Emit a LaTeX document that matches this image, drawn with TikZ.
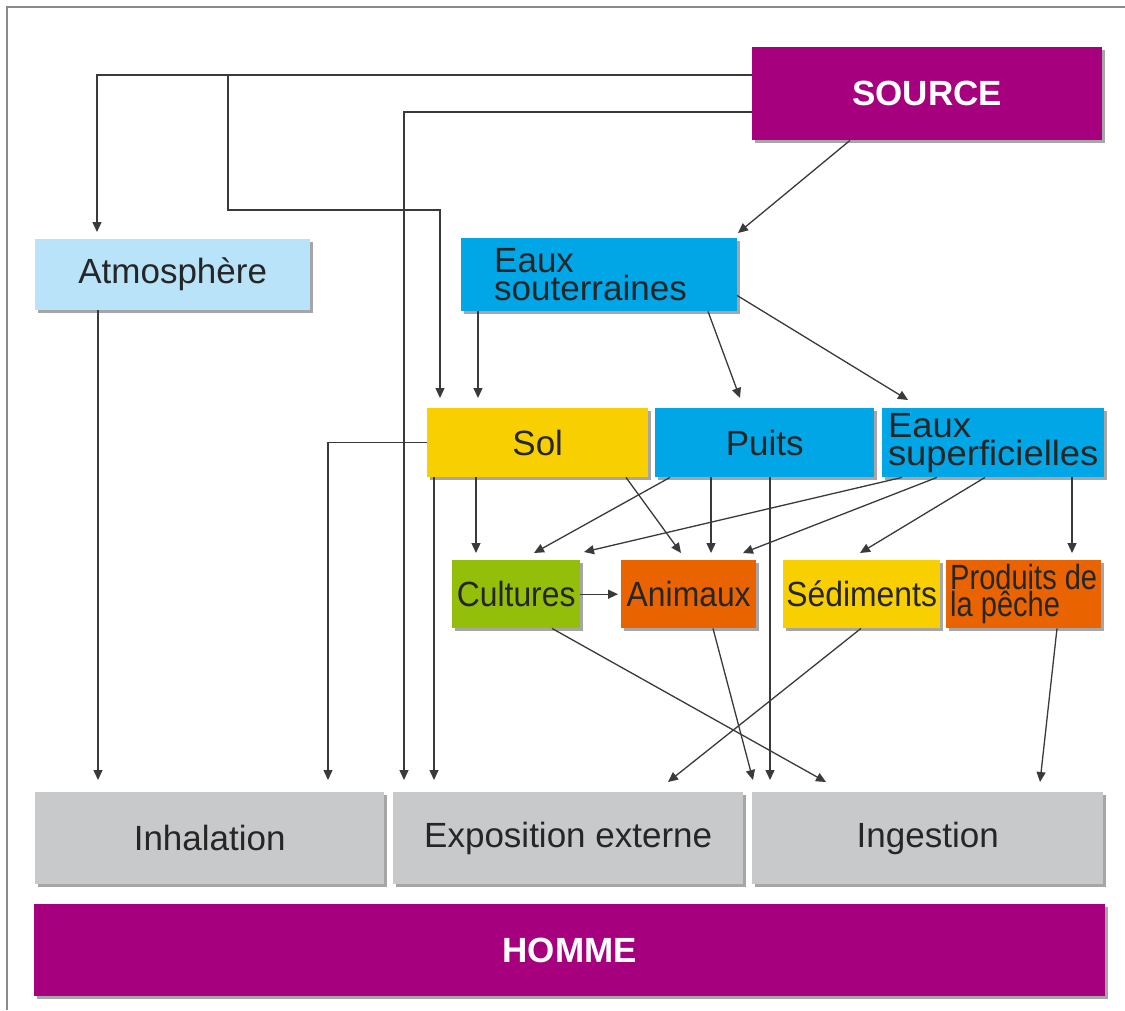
\documentclass[tikz,border=0pt]{standalone}
\usepackage{fontspec}
\setmainfont{Liberation Sans}
\newfontfamily\condA{Liberation Sans}[FakeStretch=0.91]
\newfontfamily\condB{Liberation Sans}[FakeStretch=0.83]
\newfontfamily\wideA{Liberation Sans}[FakeStretch=1.04]
\usetikzlibrary{arrows.meta,shadows,calc}
\definecolor{magen}{HTML}{A6007E}
\definecolor{lblue}{HTML}{B9E3F9}
\definecolor{dblue}{HTML}{00A6E6}
\definecolor{yell}{HTML}{F8CF00}
\definecolor{grn}{HTML}{93BE0A}
\definecolor{oran}{HTML}{E96300}
\definecolor{grayb}{HTML}{C8C9CB}
\definecolor{txt}{HTML}{262626}
\definecolor{lin}{HTML}{3A3A3A}
\definecolor{framec}{HTML}{8A8A8A}
\begin{document}
\begin{tikzpicture}[x=1pt,y=-1pt,
  box/.style={rectangle, inner sep=0pt, anchor=north west, text=txt,
    font=\fontsize{35}{28}\selectfont,
    drop shadow={shadow xshift=2.5pt, shadow yshift=-2.5pt, fill=black, opacity=0.35}},
  boldbox/.style={box, text=white, font=\fontsize{35}{30}\selectfont\bfseries},
  arr/.style={draw=lin, line width=1.3pt, -{Triangle[length=10pt,width=9pt]}}]
\useasboundingbox (0,0) rectangle (1125,1010);
\fill[white] (0,0) rectangle (1125,1010);
\draw[framec, line width=2pt] (7,1010) -- (7,7) -- (1125,7);

% nodes
\node[boldbox, fill=magen, minimum width=350pt, minimum height=93pt] (source) at (752,47) {SOURCE};
\node[box, fill=lblue, minimum width=275pt, minimum height=71pt] (atmo) at (35,239) {Atmosphère};
\node[box, fill=dblue, minimum height=73pt, inner xsep=33pt, text width=210pt, align=left] (esout) at (461,238) {Eaux\\souterraines};
\node[box, fill=yell, minimum width=221pt, minimum height=69pt] (sol) at (427,408) {Sol};
\node[box, fill=dblue, minimum width=219pt, minimum height=69pt] (puits) at (655,408) {Puits};
\node[box, fill=dblue, minimum width=222pt, minimum height=69pt, align=left, font=\fontsize{35}{28}\wideA] (esup) at (882,408) {Eaux\\superficielles};
\node[box, fill=grn, minimum width=128pt, minimum height=68pt, font=\fontsize{35}{28}\condA] (cult) at (452,560) {Cultures};
\node[box, fill=oran, minimum width=135pt, minimum height=68pt, font=\fontsize{35}{28}\condA] (anim) at (621,560) {Animaux};
\node[box, fill=yell, minimum width=157pt, minimum height=68pt, font=\fontsize{35}{28}\condA] (sed) at (783,560) {Sédiments};
\node[box, fill=oran, minimum width=155pt, minimum height=68pt, align=left, font=\fontsize{35}{27}\condB] (prod) at (946,560) {Produits de\\la pêche};
\node[box, fill=grayb, minimum width=349pt, minimum height=92pt] (inh) at (35,792) {Inhalation};
\node[box, fill=grayb, minimum width=350pt, minimum height=92pt] (expo) at (393,792) {Exposition externe};
\node[box, fill=grayb, minimum width=351pt, minimum height=92pt] (ing) at (752,792) {Ingestion};
\node[boldbox, fill=magen, minimum width=1071pt, minimum height=92pt] (homme) at (34,904) {HOMME};

% connectors
\coordinate (j1) at (228,75);
\draw[arr] ($(source.north west)+(0,28)$) -| ($(atmo.north west)+(62,-7)$);
\draw[arr] (j1) -- ++(0,135) -| ($(sol.north west)+(13,-10)$);
\draw[arr] ($(source.north west)+(0,65)$) -| ($(expo.north west)+(11,-12)$);
\draw[arr] ($(source.south west)+(98,0)$) -- ($(esout.north west)+(277,-5)$);
\draw[arr] ($(esout.south west)+(17,0)$) -- ($(sol.north west)+(51,-10)$);
\draw[arr] ($(esout.south west)+(247,0)$) -- ($(puits.north west)+(85,-10)$);
\draw[arr] ($(esout.south west)+(276,-16)$) -- ($(esup.north west)+(26,-8)$);
\draw[arr] ($(atmo.south west)+(63,0)$) -- ($(inh.north west)+(63,-12)$);
\draw[arr] (sol.west) -| ($(inh.north west)+(293,-12)$);
\draw[arr] ($(sol.south west)+(7,0)$) -- ($(expo.north west)+(41,-12)$);
\draw[arr] ($(sol.south west)+(49,0)$) -- ($(cult.north west)+(24,-7)$);
\draw[arr] ($(sol.south west)+(199,0)$) -- ($(anim.north west)+(60,-7)$);
\draw[arr] ($(puits.south west)+(15,0)$) -- ($(cult.north west)+(82,-7)$);
\draw[arr] ($(puits.south west)+(56,0)$) -- ($(anim.north west)+(90,-7)$);
\draw[arr] ($(puits.south west)+(115,0)$) -- ($(ing.north west)+(18,-12)$);
\draw[arr] ($(esup.south west)+(20,0)$) -- ($(cult.north west)+(132,-8)$);
\draw[arr] ($(esup.south west)+(55,0)$) -- ($(anim.north west)+(122,-7)$);
\draw[arr] ($(esup.south west)+(103,0)$) -- ($(sed.north west)+(77,-7)$);
\draw[arr] ($(esup.south west)+(190,0)$) -- ($(prod.north west)+(126,-7)$);
\draw[arr, shorten >=3pt] (cult.east) -- (anim.west);
\draw[arr] ($(cult.south west)+(100,0)$) -- ($(ing.north west)+(74,-10)$);
\draw[arr] ($(anim.south west)+(92,0)$) -- ($(ing.north west)+(1,-12)$);
\draw[arr] ($(sed.south west)+(78,0)$) -- ($(expo.north west)+(275,-10)$);
\draw[arr] ($(prod.south west)+(111,0)$) -- ($(ing.north west)+(288,-10)$);
\end{tikzpicture}
\end{document}
